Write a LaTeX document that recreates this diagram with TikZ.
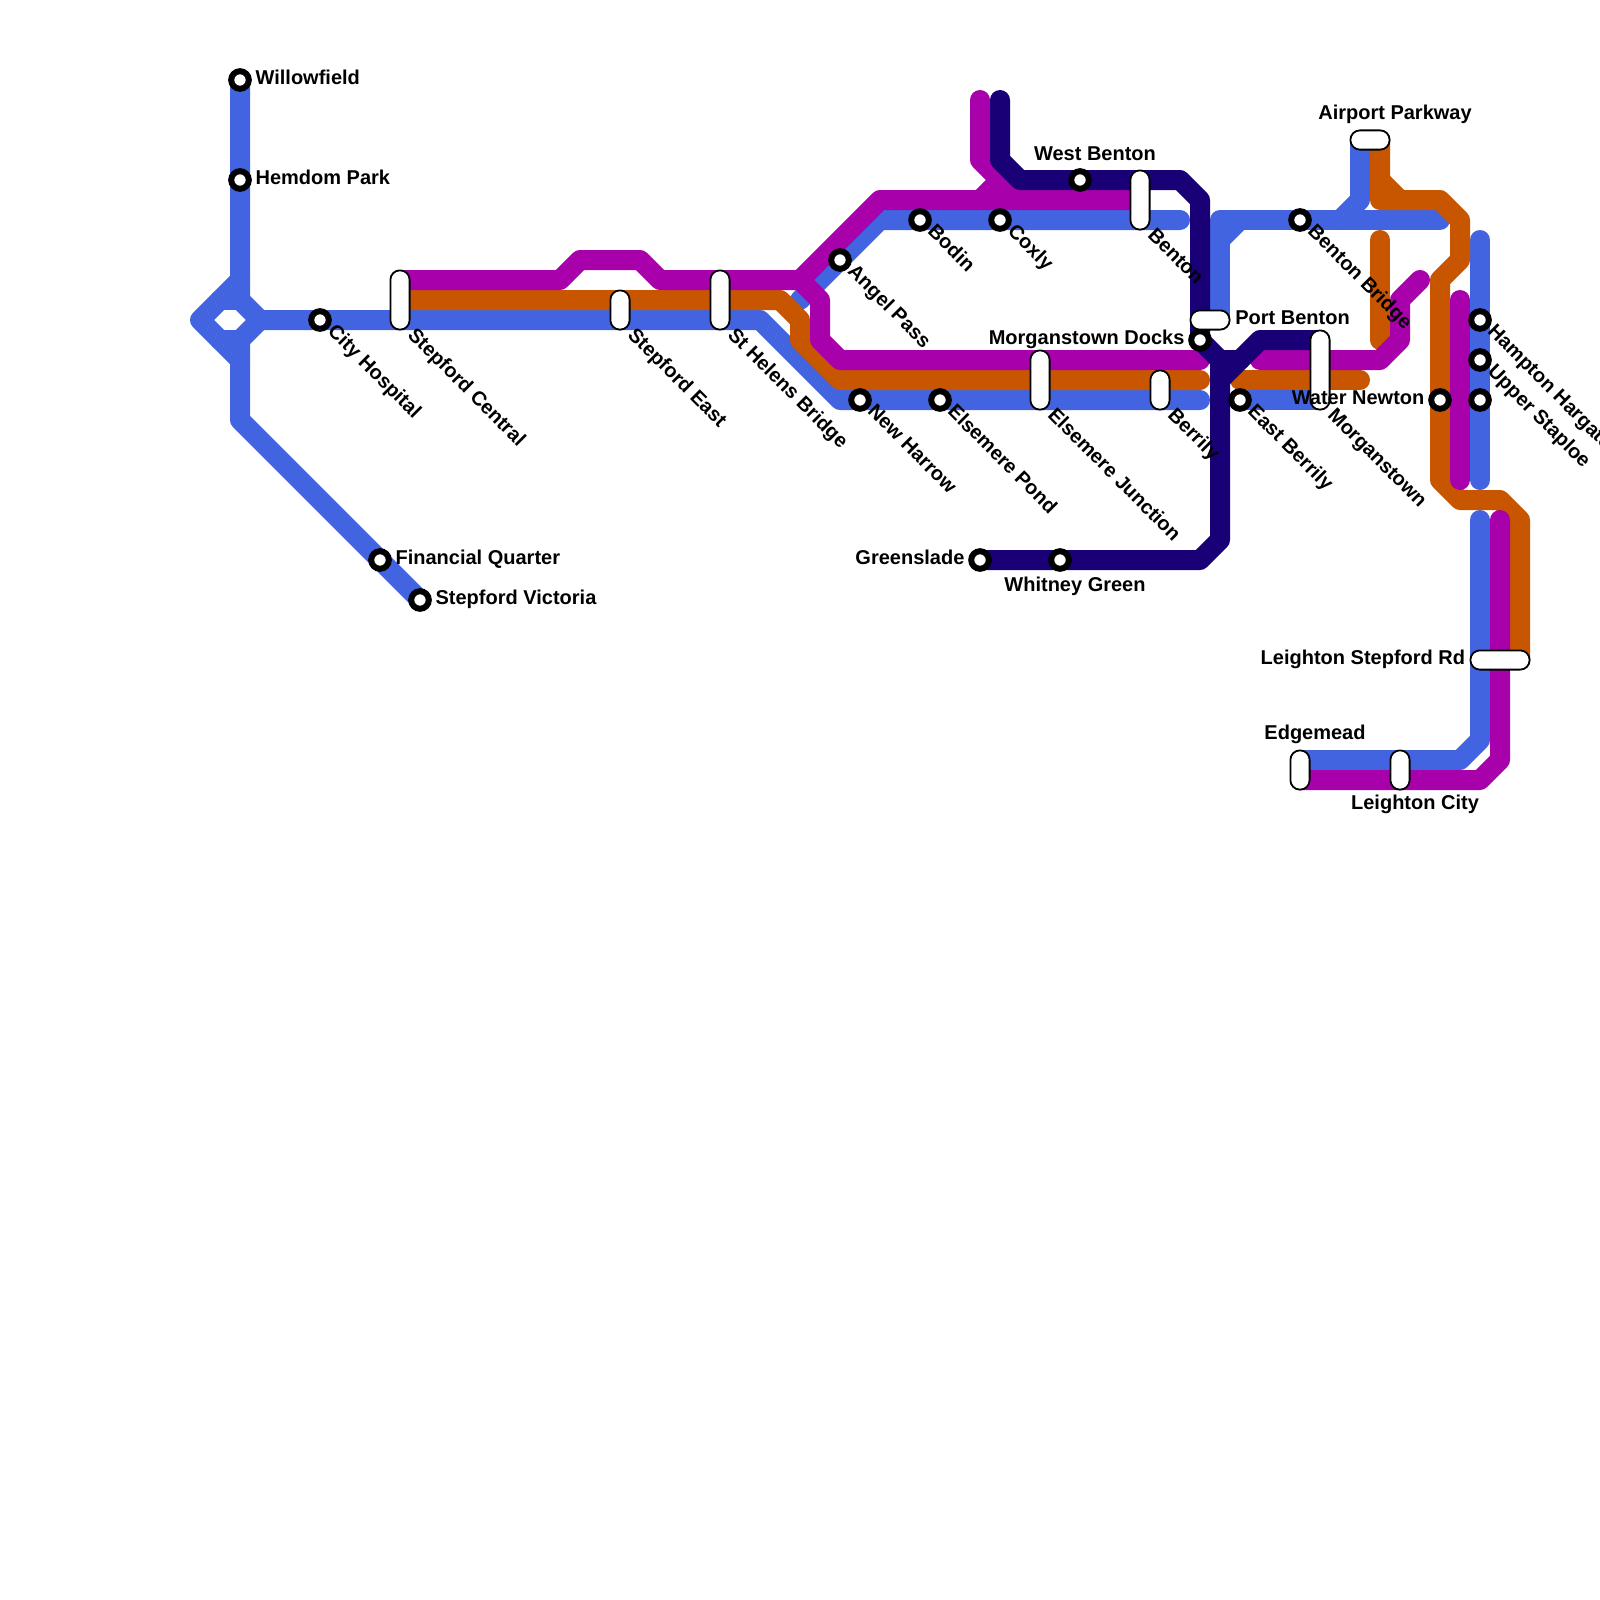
\documentclass[tikz,border=0pt]{standalone}
\usepackage{fontspec}
\setmainfont{Liberation Sans}
\usetikzlibrary{positioning}
\definecolor{lineblue}{HTML}{4364E0}
\definecolor{lineorange}{HTML}{C85600}
\definecolor{linemagenta}{HTML}{A800AA}
\definecolor{linenavy}{HTML}{1A0077}

\begin{document}
\begin{tikzpicture}[
    x=0.5pt, y=-0.5pt,
    track/.style={line width=10pt, line cap=round, line join=round},
    bluetrack/.style={track, lineblue},
    orangetrack/.style={track, lineorange},
    magentatrack/.style={track, linemagenta},
    navytrack/.style={track, linenavy},
    stn/.style={circle, draw=black, fill=white, line width=3pt, minimum size=8.8pt, inner sep=0pt},
    pill/.style={rectangle, draw=black, fill=white, line width=0.9pt, rounded corners=4.7pt, inner sep=0pt, minimum width=9.6pt, minimum height=9.6pt},
    lbl/.style={font=\bfseries\fontsize{10pt}{11pt}\selectfont, inner sep=0pt, text height=7pt, text depth=2.2pt},
    slant/.style={lbl, rotate=-45, anchor=west},
    stnslant/.style={slant, xshift=6.7pt, yshift=0.35pt},
    pillslant/.style={slant, xshift=0.6pt, yshift=-0.9pt},
]
\useasboundingbox (0,0) rectangle (1600,1600);
\fill[white] (0,0) rectangle (1600,1600);

\draw[bluetrack] (240,80) -- (240,300) -- (260,320) -- (240,340) -- (240,420) -- (420,600);
\draw[bluetrack] (240,280) -- (200,320) -- (240,360);
\draw[bluetrack] (220,300) -- (240,300);
\draw[bluetrack] (220,340) -- (240,340);
\draw[bluetrack] (260,320) -- (760,320) -- (840,400) -- (1200,400);
\draw[bluetrack] (800,300) -- (880,220) -- (1180,220);
\draw[bluetrack] (1220,320) -- (1220,220) -- (1440,220);
\draw[bluetrack] (1220,240) -- (1240,220);
\draw[bluetrack] (1360,140) -- (1360,200) -- (1340,220);
\draw[bluetrack] (1240,400) -- (1320,400);
\draw[bluetrack] (1480,240) -- (1480,480);
\draw[bluetrack] (1480,520) -- (1480,740) -- (1460,760) -- (1300,760);

\draw[orangetrack] (400,300) -- (780,300) -- (800,320) -- (800,340) -- (840,380) -- (1200,380);
\draw[orangetrack] (1240,380) -- (1360,380);
\draw[orangetrack] (1380,240) -- (1380,340);
\draw[orangetrack] (1380,140) -- (1380,200) -- (1440,200) -- (1460,220) -- (1460,260) -- (1440,280) -- (1440,480) -- (1460,500) -- (1500,500) -- (1520,520) -- (1520,660);
\draw[orangetrack] (1380,180) -- (1400,200);

\draw[magentatrack] (400,280) -- (560,280) -- (580,260) -- (640,260) -- (660,280) -- (800,280) -- (820,300) -- (820,340) -- (840,360) -- (1200,360);
\draw[magentatrack] (800,280) -- (880,200) -- (1140,200);
\draw[magentatrack] (980,100) -- (980,160) -- (1020,200);
\draw[magentatrack] (980,200) -- (1000,180);
\draw[magentatrack] (1260,360) -- (1380,360) -- (1400,340) -- (1400,300) -- (1420,280);
\draw[magentatrack] (1460,300) -- (1460,480);
\draw[magentatrack] (1500,520) -- (1500,760) -- (1480,780) -- (1300,780);

\draw[navytrack] (1000,100) -- (1000,160) -- (1020,180) -- (1180,180) -- (1200,200) -- (1200,340) -- (1220,360) -- (1220,540) -- (1200,560) -- (980,560);
\draw[navytrack] (1220,380) -- (1260,340) -- (1320,340);
\draw[navytrack] (1220,360) -- (1240,360);

\node[stn] (willowfield) at (240,80) {};
\node[stn] (hemdom) at (240,180) {};
\node[stn] (cityhosp) at (320,320) {};
\node[stn] (financial) at (380,560) {};
\node[stn] (victoria) at (420,600) {};
\node[stn] (angel) at (840,260) {};
\node[stn] (bodin) at (920,220) {};
\node[stn] (coxly) at (1000,220) {};
\node[stn] (westbenton) at (1080,180) {};
\node[stn] (newharrow) at (860,400) {};
\node[stn] (elsemerep) at (940,400) {};
\node[stn] (docks) at (1200,340) {};
\node[stn] (eastberrily) at (1240,400) {};
\node[stn] (bentonb) at (1300,220) {};
\node[stn] (waternewton) at (1440,400) {};
\node[stn] (hampton) at (1480,320) {};
\node[stn] (staploe) at (1480,360) {};
\node[stn] (lastblue) at (1480,400) {};
\node[stn] (greenslade) at (980,560) {};
\node[stn] (whitney) at (1060,560) {};

\node[pill, minimum height=29.6pt] (stepcentral) at (400,300) {};
\node[pill, minimum height=19.6pt] (stepeast) at (620,310) {};
\node[pill, minimum height=29.6pt] (sthelens) at (720,300) {};
\node[pill, minimum height=29.6pt] (benton) at (1140,200) {};
\node[pill, minimum height=29.6pt] (elsemerej) at (1040,380) {};
\node[pill, minimum height=19.6pt] (berrily) at (1160,390) {};
\node[pill, minimum width=19.6pt] (portbenton) at (1210,320) {};
\node[pill, minimum height=39.6pt] (morganstown) at (1320,370) {};
\node[pill, minimum width=19.6pt] (airport) at (1370,140) {};
\node[pill, minimum width=29.6pt] (leightonrd) at (1500,660) {};
\node[pill, minimum height=19.6pt] (edgemead) at (1300,770) {};
\node[pill, minimum height=19.6pt] (leightonc) at (1400,770) {};

\node[lbl, right=1.7pt of willowfield] (l1) {Willowfield};
\node[lbl, right=1.7pt of hemdom] (l2) {Hemdom Park};
\node[lbl, right=1.7pt of financial] (l3) {Financial Quarter};
\node[lbl, right=1.7pt of victoria] (l4) {Stepford Victoria};
\node[lbl, above=1.2pt of westbenton, xshift=7.5pt] (l5) {West Benton};
\node[lbl, left=1.7pt of docks] (l6) {Morganstown Docks};
\node[lbl, right=2.2pt of portbenton] (l7) {Port Benton};
\node[lbl, above=2.5pt of airport, xshift=12.5pt] (l8) {Airport Parkway};
\node[lbl, left=1.7pt of greenslade] (l9) {Greenslade};
\node[lbl, below=2.5pt of whitney, xshift=7.5pt] (l10) {Whitney Green};
\node[lbl, left=1.7pt of waternewton] (l11) {Water Newton};
\node[lbl, left=2pt of leightonrd] (l12) {Leighton Stepford Rd};
\node[lbl, above=2.5pt of edgemead, xshift=7.5pt] (l13) {Edgemead};
\node[lbl, below=2.5pt of leightonc, xshift=7.5pt] (l14) {Leighton City};

\node[stnslant] (l15) at (cityhosp) {City Hospital};
\node[stnslant] (l16) at (angel) {Angel Pass};
\node[stnslant] (l17) at (bodin) {Bodin};
\node[stnslant] (l18) at (coxly) {Coxly};
\node[stnslant] (l19) at (newharrow) {New Harrow};
\node[stnslant] (l20) at (elsemerep) {Elsemere Pond};
\node[stnslant] (l21) at (eastberrily) {East Berrily};
\node[stnslant] (l22) at (bentonb) {Benton Bridge};
\node[stnslant] (l23) at (hampton) {Hampton Hargate};
\node[stnslant] (l24) at (staploe) {Upper Staploe};
\node[pillslant] (l25) at (stepcentral.south east) {Stepford Central};
\node[pillslant] (l26) at (stepeast.south east) {Stepford East};
\node[pillslant] (l27) at (sthelens.south east) {St Helens Bridge};
\node[pillslant] (l28) at (benton.south east) {Benton};
\node[pillslant] (l29) at (elsemerej.south east) {Elsemere Junction};
\node[pillslant] (l30) at (berrily.south east) {Berrily};
\node[pillslant] (l31) at (morganstown.south east) {Morganstown};
\end{tikzpicture}
\end{document}
